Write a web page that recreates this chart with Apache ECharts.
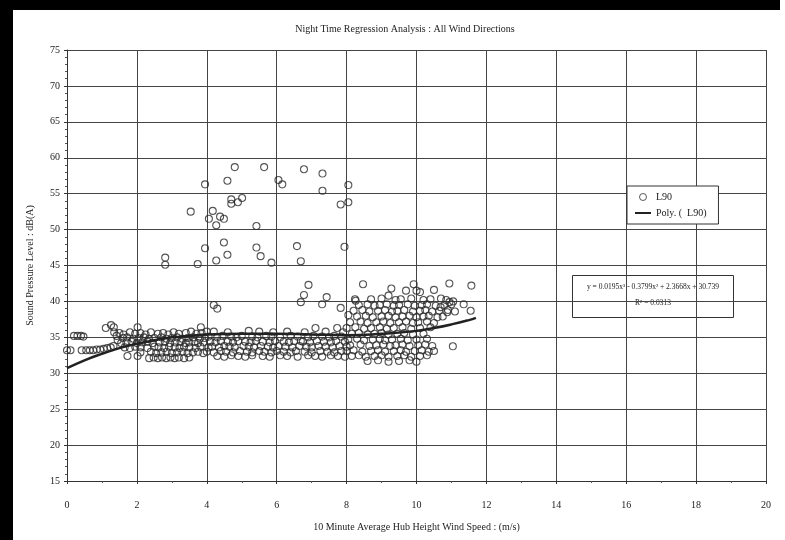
<!DOCTYPE html>
<html>
<head>
<meta charset="utf-8">
<script src="https://cdn.jsdelivr.net/npm/echarts@6/dist/echarts.min.js"></script>
<style>
html,body{margin:0;padding:0;background:#fff;}
#chart{width:785px;height:540px;}
</style>
</head>
<body>
<div id="chart"></div>
<script>
// ---- Data ----
const xTicks = [0, 2, 4, 6, 8, 10, 12, 14, 16, 18, 20];
const yTicks = [15, 20, 25, 30, 35, 40, 45, 50, 55, 60, 65, 70, 75];

// L90 observations: high outliers
const l90Outliers = [
[2.81,46.1],[2.81,45.1],[3.54,52.5],[3.74,45.2],[3.95,56.3],[3.95,47.4],[4.06,51.5],[4.17,52.6],
[4.27,50.6],[4.27,45.7],[4.38,51.8],[4.49,51.5],[4.49,48.2],[4.59,56.8],[4.59,46.5],[4.70,54.2],
[4.70,53.6],[4.80,58.7],[4.89,53.8],[5.01,54.4],[5.42,50.5],[5.42,47.5],[5.54,46.3],[5.64,58.7],
[5.85,45.4],[6.05,56.9],[6.16,56.3],[6.58,47.7],[6.69,45.6],[6.78,58.4],[6.91,42.3],[6.78,40.9],
[7.31,57.8],[7.31,55.4],[7.43,40.6],[7.83,53.5],[8.05,56.2],[8.05,53.8],[7.94,47.6],[8.47,42.4],
[8.24,40.3]
];

// L90 observations: low wind speeds (0 - 4 m/s)
const l90Low = [
[0.0,33.2],[0.1,33.2],[0.2,35.2],[0.3,35.2],[0.4,35.2],[0.47,35.1],
[0.42,33.2],[0.55,33.2],[0.65,33.2],[0.75,33.2],[0.85,33.3],[0.95,33.3],[1.05,33.4],[1.15,33.5],[1.25,33.6],[1.33,33.8],
[1.11,36.3],[1.26,36.7],[1.34,36.4],[1.35,35.7],[1.42,35.2],[1.45,34.6],
[1.5,35.6],[1.62,35.4],[1.8,35.7],[1.95,35.5],[2.02,36.4],[2.1,35.6],[2.25,35.4],[2.4,35.7],[2.6,35.5],[2.75,35.6],
[2.9,35.4],[3.05,35.7],[3.2,35.5],[3.4,35.6],[3.55,35.8],[3.7,35.5],[3.83,36.4],[3.85,35.6],[4.0,35.8],
[1.6,34.9],[1.72,35.0],[1.9,34.8],[2.05,34.9],[2.2,35.0],[2.35,34.8],[2.5,34.9],[2.7,35.0],[2.85,34.8],[3.0,34.9],
[3.15,35.0],[3.3,34.8],[3.45,34.9],[3.6,35.0],[3.8,34.8],[3.95,34.9],
[1.55,34.2],[1.7,34.3],[1.85,34.4],[2.0,34.2],[2.15,34.3],[2.3,34.4],[2.45,34.2],[2.65,34.3],[2.8,34.4],[2.95,34.2],
[3.1,34.3],[3.25,34.4],[3.4,34.2],[3.5,34.3],[3.65,34.4],[3.75,34.2],[3.9,34.3],
[1.65,33.6],[1.8,33.5],[1.95,33.7],[2.1,33.6],[2.3,33.5],[2.5,33.7],[2.62,33.6],[2.78,33.5],[2.92,33.7],[3.08,33.6],
[3.22,33.5],[3.35,33.7],[3.5,33.6],[3.68,33.5],[3.82,33.7],[4.05,33.6],
[2.1,32.9],[2.4,33.0],[2.55,32.8],[2.7,32.9],[2.85,33.0],[3.0,32.8],[3.15,32.9],[3.3,33.0],[3.45,32.8],[3.6,32.9],
[3.75,33.0],[3.9,32.8],
[1.73,32.4],[2.02,32.4],[2.35,32.1],[2.48,32.2],[2.6,32.1],[2.72,32.2],[2.84,32.1],[2.96,32.2],[3.08,32.1],[3.2,32.2],
[3.35,32.1],[3.5,32.2]
];

// L90 observations: mid wind speeds (4 - 8 m/s)
const l90Mid = [
[4.2,39.5],[4.3,39.0],[6.69,39.9],[7.3,39.6],[7.83,39.1],[8.05,38.1],[6.69,34.5],
[4.2,35.8],[4.6,35.7],[5.2,35.9],[5.5,35.8],[5.9,35.7],[6.3,35.8],[6.8,35.7],[7.11,36.3],[7.4,35.8],[7.73,36.3],[7.9,35.7],
[4.05,35.1],[4.3,35.0],[4.45,35.2],[4.7,35.1],[4.85,35.0],[5.0,35.2],[5.3,35.1],[5.45,35.0],[5.7,35.2],[5.85,35.1],
[6.1,35.0],[6.4,35.2],[6.6,35.1],[6.9,35.0],[7.05,35.2],[7.3,35.1],[7.5,35.0],[7.65,35.2],[7.85,35.1],
[4.1,34.4],[4.25,34.3],[4.4,34.5],[4.6,34.4],[4.75,34.3],[4.9,34.5],[5.1,34.4],[5.25,34.3],[5.4,34.5],[5.6,34.4],
[5.8,34.3],[5.95,34.5],[6.2,34.4],[6.35,34.3],[6.5,34.5],[6.75,34.4],[6.95,34.3],[7.15,34.5],[7.35,34.4],[7.55,34.3],
[7.7,34.5],[7.95,34.4],
[4.15,33.7],[4.35,33.6],[4.5,33.8],[4.65,33.7],[4.8,33.6],[5.05,33.8],[5.2,33.7],[5.35,33.6],[5.55,33.8],[5.75,33.7],
[5.9,33.6],[6.05,33.8],[6.25,33.7],[6.45,33.6],[6.65,33.8],[6.85,33.7],[7.0,33.6],[7.2,33.8],[7.4,33.7],[7.6,33.6],
[7.8,33.8],[8.0,33.7],
[4.0,33.0],[4.2,32.9],[4.4,33.1],[4.55,33.0],[4.75,32.9],[4.95,33.1],[5.15,33.0],[5.3,32.9],[5.5,33.1],[5.65,33.0],
[5.85,32.9],[6.0,33.1],[6.2,33.0],[6.4,32.9],[6.55,33.1],[6.8,33.0],[7.0,32.9],[7.25,33.1],[7.45,33.0],[7.65,32.9],
[7.85,33.1],
[4.3,32.4],[4.5,32.3],[4.7,32.5],[4.9,32.4],[5.1,32.3],[5.3,32.5],[5.6,32.4],[5.8,32.3],[6.1,32.5],[6.3,32.4],
[6.6,32.3],[6.9,32.5],[7.1,32.4],[7.3,32.3],[7.55,32.5],[7.75,32.4],[7.95,32.3]
];

// L90 observations: high wind speeds (8 - 11.7 m/s)
const l90High = [
[9.28,41.8],[9.92,42.4],[10.0,41.5],[10.1,41.3],[10.5,41.6],[10.94,42.5],[11.57,42.2],[9.7,41.5],[9.2,40.8],
[8.26,40.1],[11.05,40.0],[11.35,39.6],[11.55,38.7],[10.94,39.9],[10.69,39.2],[10.88,38.5],[11.04,33.75],
[8.7,40.3],[9.0,40.4],[9.4,40.2],[9.55,40.3],[9.85,40.4],[10.2,40.2],[10.4,40.3],[10.7,40.4],[10.85,40.2],
[8.35,39.5],[8.6,39.6],[8.8,39.4],[8.95,39.5],[9.15,39.6],[9.35,39.4],[9.5,39.5],[9.75,39.6],[9.95,39.4],[10.15,39.5],
[10.3,39.6],[10.55,39.4],[10.8,39.5],[11.0,39.6],
[8.2,38.7],[8.45,38.8],[8.65,38.6],[8.9,38.7],[9.1,38.8],[9.3,38.6],[9.45,38.7],[9.65,38.8],[9.9,38.6],[10.1,38.7],
[10.25,38.8],[10.45,38.6],[10.65,38.7],[10.9,38.8],[11.1,38.6],
[8.3,37.9],[8.55,38.0],[8.75,37.8],[9.0,37.9],[9.2,38.0],[9.4,37.8],[9.6,37.9],[9.8,38.0],[10.0,37.8],[10.2,37.9],
[10.35,38.0],[10.6,37.8],[10.75,37.9],
[8.1,37.1],[8.4,37.2],[8.6,37.0],[8.85,37.1],[9.05,37.2],[9.25,37.0],[9.5,37.1],[9.7,37.2],[9.9,37.0],[10.05,37.1],
[10.3,37.2],[10.5,37.0],
[8.0,36.3],[8.25,36.4],[8.5,36.2],[8.7,36.3],[8.95,36.4],[9.15,36.2],[9.35,36.3],[9.6,36.4],[9.85,36.2],[10.1,36.3],
[10.4,36.4],
[8.15,35.5],[8.35,35.6],[8.6,35.4],[8.8,35.5],[9.0,35.6],[9.2,35.4],[9.45,35.5],[9.65,35.6],[9.9,35.4],[10.2,35.5],
[8.05,34.7],[8.3,34.8],[8.5,34.6],[8.75,34.7],[8.95,34.8],[9.1,34.6],[9.3,34.7],[9.55,34.8],[9.75,34.6],[10.0,34.7],
[10.3,34.8],
[8.1,33.9],[8.4,34.0],[8.65,33.8],[8.85,33.9],[9.05,34.0],[9.25,33.8],[9.4,33.9],[9.6,34.0],[9.8,33.8],[10.05,33.9],
[10.25,34.0],[10.45,33.8],
[8.0,33.1],[8.2,33.2],[8.45,33.0],[8.7,33.1],[8.9,33.2],[9.1,33.0],[9.35,33.1],[9.55,33.2],[9.7,33.0],[9.95,33.1],
[10.15,33.2],[10.35,33.0],[10.5,33.1],
[8.15,32.4],[8.35,32.5],[8.55,32.3],[8.8,32.4],[9.0,32.5],[9.2,32.3],[9.45,32.4],[9.65,32.5],[9.85,32.3],[10.1,32.4],
[10.3,32.5],
[8.6,31.7],[8.9,31.8],[9.2,31.6],[9.5,31.7],[9.8,31.8],[10.0,31.6]
];

// Poly. (L90) trend line
const trendX = [0, 0.5, 1, 1.5, 2, 2.5, 3, 3.5, 4, 5, 6, 7, 8, 9, 10, 10.5, 11, 11.5, 11.7];
const trendY = [30.7, 31.8, 32.7, 33.5, 34.1, 34.6, 35.0, 35.2, 35.4, 35.5, 35.5, 35.4, 35.3, 35.5, 35.9, 36.3, 36.8, 37.4, 37.7];

const titleText = 'Night Time Regression Analysis : All Wind Directions';
const xName = '10 Minute Average Hub Height Wind Speed : (m/s)';
const yName = 'Sound Pressure Level : dB(A)';
const seriesNames = ['L90', 'Poly. (  L90)'];
const equationText = 'y = 0.0195x³ - 0.3799x² + 2.3668x + 30.739';
const r2Text = 'R² = 0.0313';

// ---- Chart ----
const FONT = "'Liberation Serif','DejaVu Serif',serif";
const l90Data = [].concat(l90Low, l90Mid, l90High, l90Outliers);
const trendData = trendX.map((x, i) => [x, trendY[i]]);

const chart = echarts.init(document.getElementById('chart'), null, {renderer: 'canvas'});
chart.setOption({
  backgroundColor: '#fff',
  animation: false,
  title: {
    text: titleText,
    left: 400, top: 19, textAlign: 'center',
    textStyle: {fontFamily: FONT, fontSize: 10, fontWeight: 'normal', color: '#222'}
  },
  grid: {left: 67, right: 19, top: 50, bottom: 59, containLabel: false},
  legend: {
    orient: 'vertical',
    left: 627, top: 186,
    padding: [6, 12, 6, 8],
    itemGap: 6,
    itemWidth: 16, itemHeight: 7,
    borderColor: '#333', borderWidth: 1,
    backgroundColor: '#fff',
    textStyle: {fontFamily: FONT, fontSize: 10, color: '#222'},
    data: [
      {name: seriesNames[0], icon: 'circle', itemStyle: {color: 'rgba(255,255,255,0)', borderColor: '#333', borderWidth: 1}},
      {name: seriesNames[1], icon: 'path://M0,0 L16,0 L16,2 L0,2 Z', itemStyle: {color: '#222', borderWidth: 0}}
    ]
  },
  xAxis: {
    type: 'value', min: 0, max: 20, interval: 2,
    name: xName, nameLocation: 'middle', nameGap: 41,
    nameTextStyle: {fontFamily: FONT, fontSize: 10, color: '#222'},
    axisLine: {lineStyle: {color: '#333', width: 1}},
    axisTick: {show: true, length: 3, lineStyle: {color: '#333'}},
    minorTick: {show: true, splitNumber: 2, length: 2, lineStyle: {color: '#555'}},
    axisLabel: {fontFamily: FONT, fontSize: 10, color: '#222', margin: 19,
      formatter: v => xTicks.includes(v) ? String(v) : ''},
    splitLine: {show: true, lineStyle: {color: '#444', width: 1}}
  },
  yAxis: {
    type: 'value', min: 15, max: 75, interval: 5,
    name: yName, nameLocation: 'middle', nameGap: 32, nameRotate: 90,
    nameTextStyle: {fontFamily: FONT, fontSize: 10, color: '#222'},
    axisLine: {show: true, lineStyle: {color: '#333', width: 1}},
    axisTick: {show: true, length: 3, lineStyle: {color: '#333'}},
    minorTick: {show: true, splitNumber: 5, length: 2, lineStyle: {color: '#555'}},
    axisLabel: {fontFamily: FONT, fontSize: 10, color: '#222', margin: 7,
      formatter: v => yTicks.includes(v) ? String(v) : ''},
    splitLine: {show: true, lineStyle: {color: '#444', width: 1}}
  },
  series: [
    {
      name: seriesNames[0],
      type: 'scatter',
      data: l90Data,
      symbol: 'circle',
      symbolSize: 7,
      itemStyle: {color: 'rgba(255,255,255,0)', borderColor: '#2a2a2a', borderWidth: 1.1},
      z: 2
    },
    {
      name: seriesNames[1],
      type: 'line',
      data: trendData,
      smooth: true,
      symbol: 'none',
      showSymbol: false,
      itemStyle: {color: '#222'},
      lineStyle: {color: '#222', width: 2.5},
      z: 3
    }
  ],
  graphic: [
    {type: 'rect', shape: {x: 0, y: 0, width: 13, height: 540}, style: {fill: '#000'}, z: 100},
    {type: 'rect', shape: {x: 0, y: 0, width: 780, height: 10}, style: {fill: '#000'}, z: 100},
    {
      type: 'group', left: 572, top: 275, z: 50,
      children: [
        {type: 'rect', shape: {x: 0, y: 0, width: 161, height: 42},
         style: {fill: '#fff', stroke: '#333', lineWidth: 1}},
        {type: 'text', x: 80.5, y: 12, style: {text: equationText, fontFamily: FONT, fontSize: 7.5,
          fill: '#222', textAlign: 'center', textVerticalAlign: 'middle'}},
        {type: 'text', x: 80.5, y: 28, style: {text: r2Text, fontFamily: FONT, fontSize: 7.5,
          fill: '#222', textAlign: 'center', textVerticalAlign: 'middle'}}
      ]
    }
  ]
});
</script>
</body>
</html>
